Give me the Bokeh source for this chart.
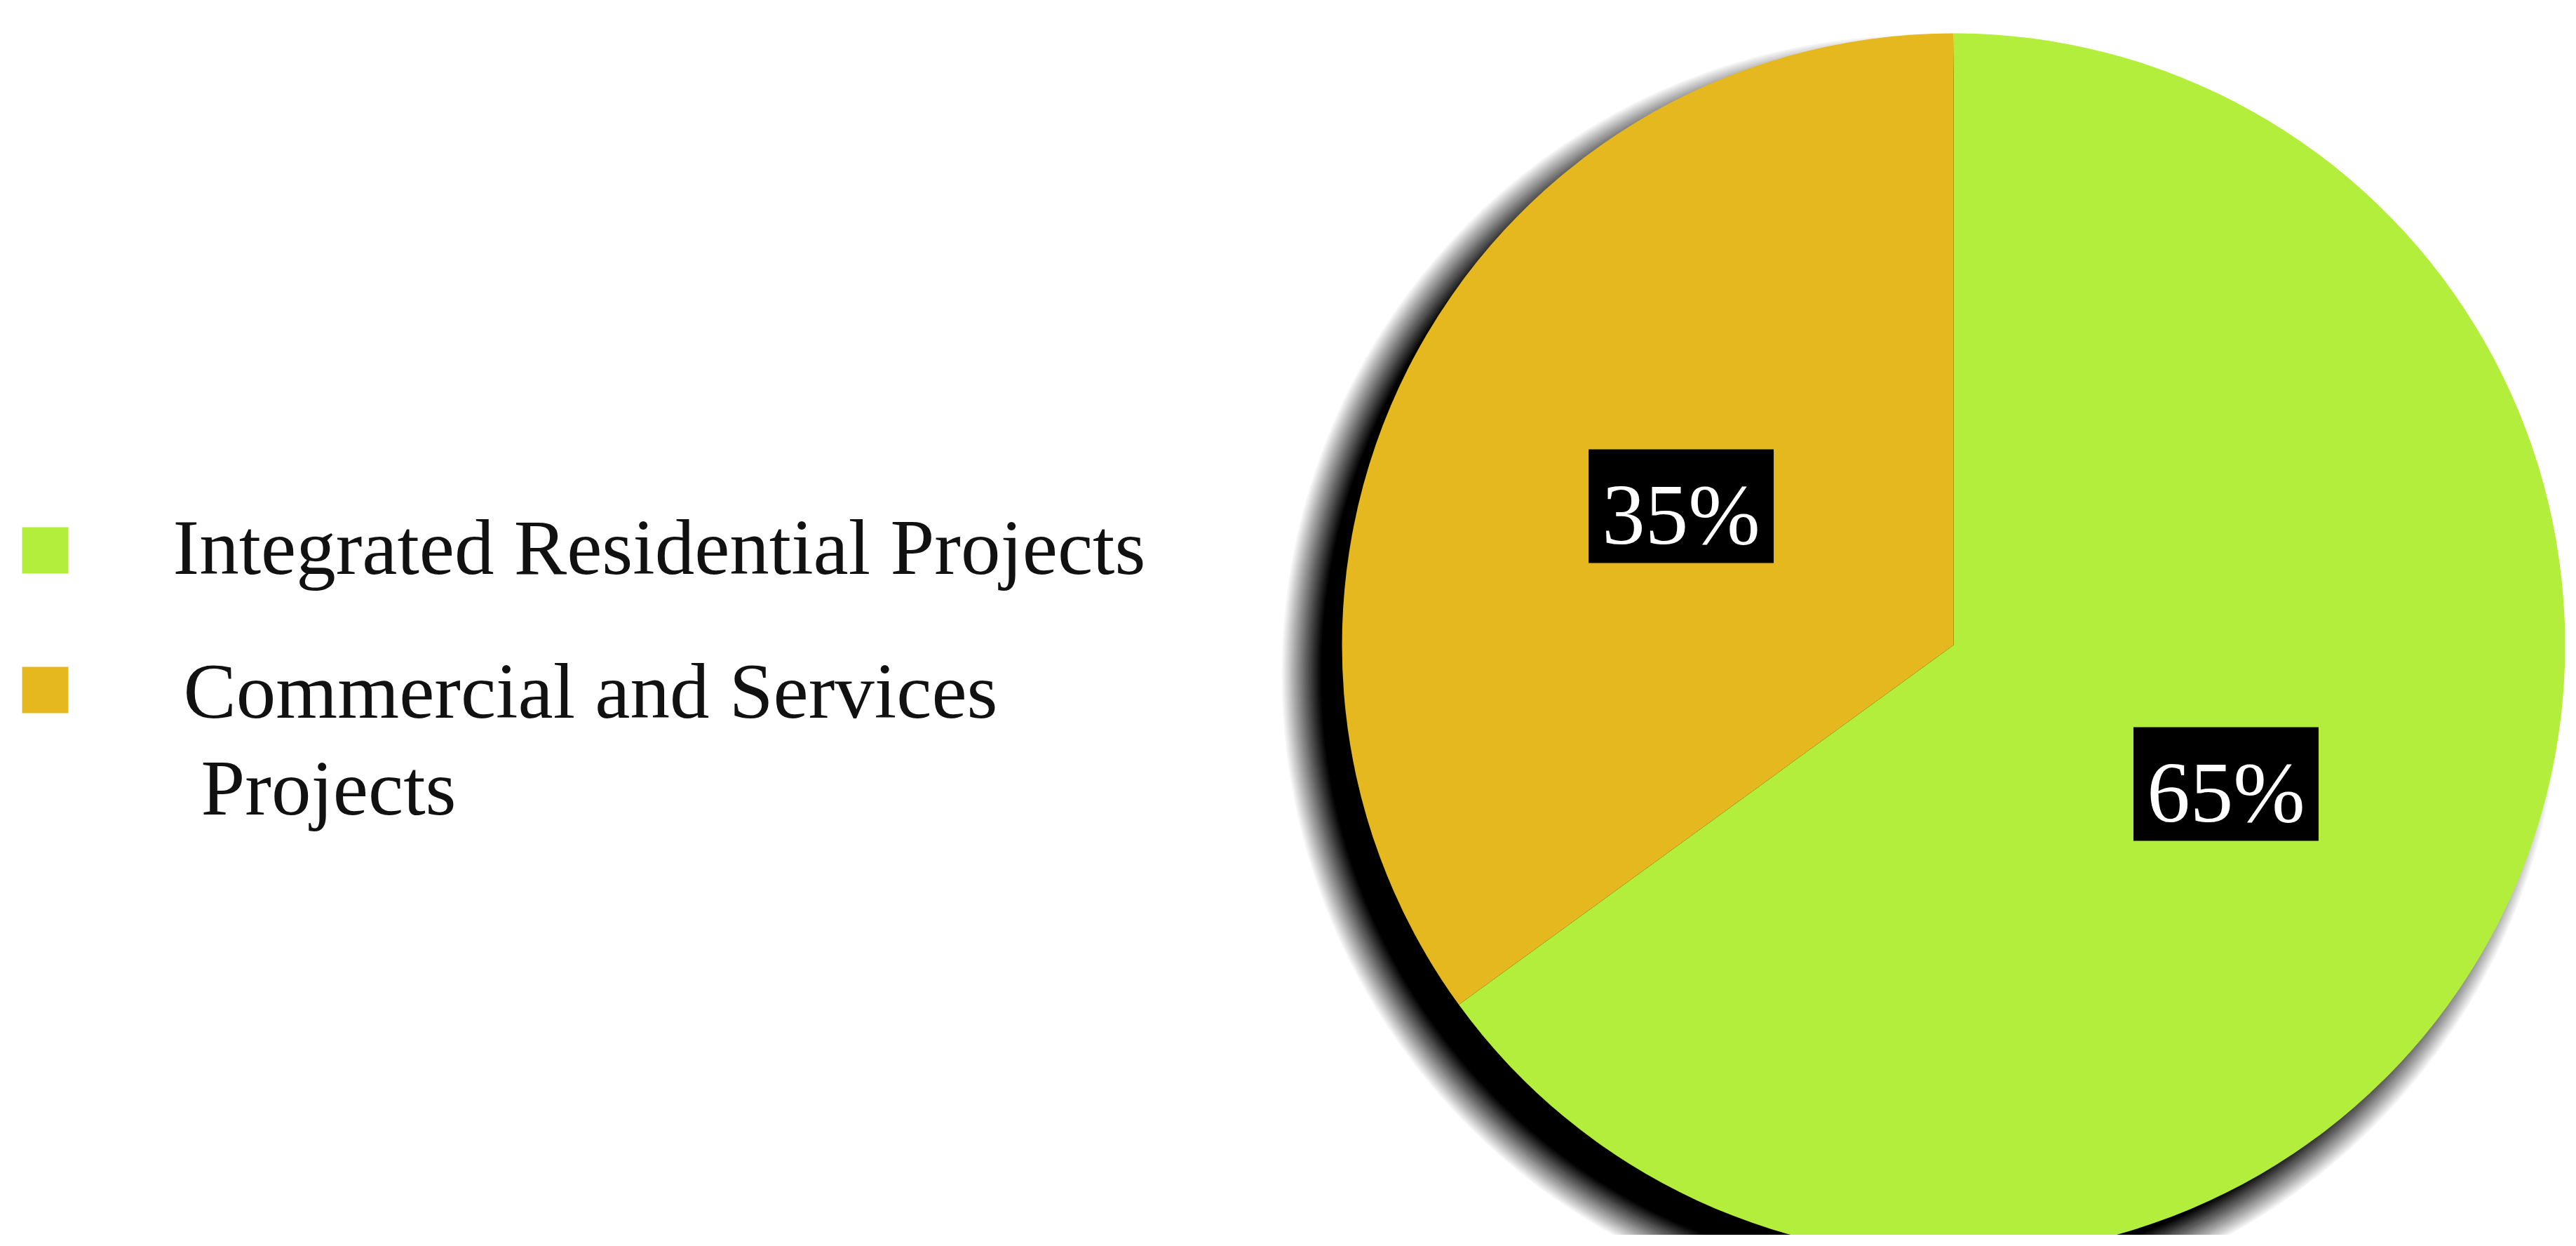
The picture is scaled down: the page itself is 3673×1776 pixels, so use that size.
import math
from bokeh.plotting import figure
from bokeh.models import Range1d
from bokeh.core.properties import value
from bokeh.embed import file_html
from bokeh.resources import INLINE

# ---- data ----
categories = ["Integrated Residential Projects", "Commercial and Services Projects"]
shares = [65, 35]
colors = ["#b4ee3c", "#e4b81e"]
legend_lines = [["Integrated Residential Projects"], ["Commercial and Services", "Projects"]]

# ---- layout (page pixels; page has an 8px margin) ----
W, H = 3657, 1760
def px(X):
    return X - 8
def py(Y):
    return H - (Y - 8)

p = figure(width=W, height=H, output_backend="svg", toolbar_location=None,
           x_range=Range1d(0, W), y_range=Range1d(0, H), min_border=0)
p.axis.visible = False
p.grid.visible = False
p.outline_line_color = None
p.background_fill_color = "white"
p.border_fill_color = "white"

cx, cy, R = px(2793), py(927), 872

# ---- soft drop shadow (down-left) ----
sh_dx, sh_dy = -46, -42
sh_R = R + 12
N, band = 28, 56
for k in range(1, N + 1):
    r = sh_R + band / 2 - (k - 1) * band / (N - 1)
    a = 1.0 / (N - k + 1)
    p.circle(x=[cx + sh_dx], y=[cy + sh_dy], radius=r, radius_units="screen",
             fill_color="black", fill_alpha=a, line_color=None)

# ---- pie wedges: residential clockwise from top, commercial counter-clockwise ----
total = float(sum(shares))
top = math.pi / 2
starts = [top - 2 * math.pi * shares[0] / total, top]
ends = [top, top + 2 * math.pi * shares[1] / total]
mids = [(s + e) / 2 for s, e in zip(starts, ends)]

p.wedge(x=[cx] * 2, y=[cy] * 2, radius=R, radius_units="screen",
        start_angle=starts, end_angle=ends,
        fill_color=colors, line_color=None)

# ---- percentage labels (white on black boxes) ----
lab_r = 0.5 * R
lx = [cx + lab_r * math.cos(m) for m in mids]
ly = [cy + lab_r * math.sin(m) for m in mids]
labels = [f"{v}%" for v in shares]
p.rect(x=lx, y=ly, width=264, height=162, width_units="screen", height_units="screen",
       fill_color="black", line_color=None)
p.text(x=lx, y=ly, text=labels, text_color="white",
       text_font=value("Liberation Serif"), text_font_size="123px",
       text_align="center", text_baseline="alphabetic", y_offset=12)

# ---- legend ----
sq_x = px(72)
sq_y = [py(792), py(991)]
p.rect(x=[sq_x] * 2, y=sq_y, width=66, height=66, width_units="screen", height_units="screen",
       fill_color=colors, line_color=None)

line_pos = [[(254, 822)], [(269, 1027), (294, 1165)]]
for lines, pos in zip(legend_lines, line_pos):
    for txt, (X, Y) in zip(lines, pos):
        p.text(x=[px(X)], y=[py(Y)], text=[txt], text_color="#111111",
               text_font=value("Liberation Serif"), text_font_size="113px",
               text_align="left", text_baseline="alphabetic", y_offset=-35)

open("out.html", "w").write(file_html(p, INLINE))
